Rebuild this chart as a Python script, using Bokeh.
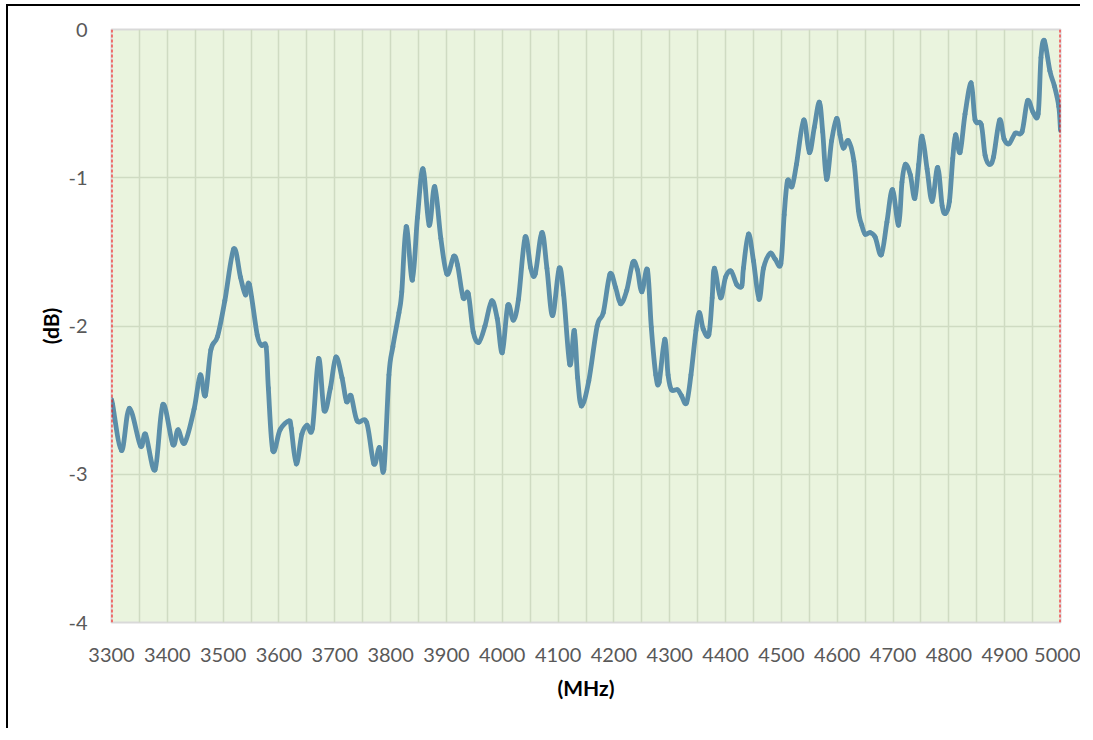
from bokeh.plotting import figure
from bokeh.models import FixedTicker, Span, Range1d, ColumnDataSource
from bokeh.embed import file_html
from bokeh.resources import INLINE

freq_mhz = [3300, 3302, 3318, 3332, 3352, 3361, 3378, 3392, 3410, 3419, 3431, 3448, 3459, 3468,
            3478, 3490, 3503, 3519, 3531, 3540, 3547, 3561, 3569, 3577, 3581, 3589, 3602, 3618,
            3622, 3631, 3641, 3650, 3660, 3671, 3681, 3692, 3702, 3713, 3721, 3729, 3740, 3757,
            3770, 3780, 3788, 3797, 3804, 3815, 3820, 3828, 3839, 3848, 3858, 3869, 3879, 3890,
            3901, 3913, 3920, 3930, 3939, 3948, 3958, 3969, 3981, 3991, 4000, 4010, 4020, 4029,
            4041, 4051, 4059, 4071, 4080, 4090, 4102, 4110, 4121, 4129, 4135, 4142, 4155, 4170,
            4181, 4193, 4203, 4212, 4223, 4234, 4242, 4250, 4260, 4267, 4275, 4281, 4291, 4297,
            4303, 4314, 4321, 4330, 4338, 4347, 4353, 4360, 4370, 4376, 4380, 4391, 4400, 4410,
            4420, 4429, 4432, 4441, 4450, 4460, 4468, 4480, 4489, 4499, 4505, 4511, 4519, 4527,
            4540, 4550, 4559, 4568, 4574, 4581, 4590, 4599, 4605, 4611, 4620, 4630, 4638, 4644,
            4650, 4659, 4668, 4679, 4689, 4699, 4710, 4716, 4722, 4731, 4739, 4746, 4752, 4761,
            4770, 4780, 4788, 4794, 4801, 4807, 4812, 4820, 4829, 4840, 4847, 4858, 4865, 4873,
            4880, 4891, 4899, 4908, 4919, 4931, 4941, 4951, 4960, 4965, 4971, 4981, 4989, 4997,
            5000]
gain_db = [-2.50, -2.53, -2.84, -2.555, -2.81, -2.73, -2.97, -2.53, -2.80, -2.70, -2.79, -2.56, -2.33, -2.47,
           -2.16, -2.07, -1.83, -1.48, -1.67, -1.79, -1.72, -2.06, -2.13, -2.14, -2.42, -2.84, -2.70, -2.64,
           -2.69, -2.93, -2.73, -2.67, -2.69, -2.22, -2.57, -2.42, -2.21, -2.35, -2.51, -2.47, -2.64, -2.65,
           -2.93, -2.82, -2.97, -2.33, -2.14, -1.91, -1.77, -1.33, -1.69, -1.27, -0.94, -1.32, -1.06, -1.41,
           -1.65, -1.53, -1.59, -1.81, -1.78, -2.04, -2.11, -2.00, -1.83, -1.95, -2.18, -1.86, -1.96, -1.82,
           -1.40, -1.61, -1.65, -1.37, -1.61, -1.93, -1.61, -1.79, -2.26, -2.03, -2.35, -2.54, -2.37, -2.00,
           -1.91, -1.65, -1.74, -1.85, -1.76, -1.57, -1.62, -1.77, -1.62, -2.01, -2.33, -2.38, -2.09, -2.33,
           -2.43, -2.43, -2.47, -2.52, -2.33, -2.03, -1.91, -2.02, -2.06, -1.81, -1.61, -1.81, -1.67, -1.63,
           -1.72, -1.73, -1.61, -1.38, -1.56, -1.82, -1.61, -1.51, -1.55, -1.58, -1.25, -1.02, -1.06, -0.91,
           -0.61, -0.83, -0.66, -0.49, -0.69, -1.01, -0.75, -0.60, -0.71, -0.80, -0.75, -0.89, -1.22, -1.32,
           -1.38, -1.37, -1.40, -1.52, -1.30, -1.08, -1.32, -1.03, -0.91, -0.98, -1.14, -0.91, -0.72, -0.94,
           -1.16, -0.93, -1.19, -1.24, -1.16, -0.87, -0.71, -0.83, -0.57, -0.36, -0.61, -0.64, -0.85, -0.91,
           -0.86, -0.61, -0.74, -0.77, -0.70, -0.69, -0.48, -0.56, -0.57, -0.19, -0.075, -0.28, -0.38, -0.52,
           -0.68]

x_tick_labels = list(range(3300, 5001, 100))
x_grid_lines = list(range(3300, 5001, 50))
y_ticks = [0, -1, -2, -3, -4]

p = figure(width=1080, height=728, output_backend="svg", toolbar_location=None,
           x_range=Range1d(3300, 5000), y_range=Range1d(-4, 0),
           min_border_left=111, min_border_right=20, min_border_top=29, min_border_bottom=106)
p.styles = {"background": "linear-gradient(#000, #000) 6px 4px / 2px 740px no-repeat, "
                          "linear-gradient(#000, #000) 6px 4px / 1093px 2px no-repeat, #fff"}

p.background_fill_color = "#EAF4DE"
p.border_fill_color = None
p.outline_line_color = "#D9D9D9"
p.outline_line_width = 2

p.xaxis.ticker = FixedTicker(ticks=x_tick_labels)
p.yaxis.ticker = FixedTicker(ticks=y_ticks)
p.yaxis.major_label_overrides = {t: str(t) for t in y_ticks}
p.xgrid.ticker = FixedTicker(ticks=x_grid_lines)
p.xgrid.grid_line_color = "#CFDBC2"
p.xgrid.grid_line_width = 1.5
p.ygrid.grid_line_color = "#CFDBC2"
p.ygrid.grid_line_width = 1.5

for ax in (p.xaxis, p.yaxis):
    ax.axis_line_color = None
    ax.major_tick_line_color = None
    ax.minor_tick_line_color = None
    ax.major_label_text_font = "Lato"
    ax.major_label_text_font_size = "20px"
    ax.major_label_text_color = "#595959"
    ax.axis_label_text_font = "Lato"
    ax.axis_label_text_font_size = "21px"
    ax.axis_label_text_font_style = "bold"
    ax.axis_label_text_color = "black"

p.xaxis.axis_label = "(MHz)"
p.yaxis.axis_label = "(dB)"
p.xaxis.major_label_standoff = 19
p.xaxis.axis_label_standoff = 10
p.yaxis.major_label_standoff = 18
p.yaxis.axis_label_standoff = 2

# smoothed line (like a spreadsheet "smoothed line"): Catmull-Rom segments as cubic Beziers
n = len(freq_mhz)
x0, y0, x1, y1, cx0, cy0, cx1, cy1 = [], [], [], [], [], [], [], []
for i in range(n - 1):
    a = max(i - 1, 0)
    b = min(i + 2, n - 1)
    x0.append(freq_mhz[i]); y0.append(gain_db[i])
    x1.append(freq_mhz[i + 1]); y1.append(gain_db[i + 1])
    cx0.append(freq_mhz[i] + (freq_mhz[i + 1] - freq_mhz[a]) / 6)
    cy0.append(gain_db[i] + (gain_db[i + 1] - gain_db[a]) / 6)
    cx1.append(freq_mhz[i + 1] - (freq_mhz[b] - freq_mhz[i]) / 6)
    cy1.append(gain_db[i + 1] - (gain_db[b] - gain_db[i]) / 6)
src = ColumnDataSource(dict(x0=x0, y0=y0, x1=x1, y1=y1, cx0=cx0, cy0=cy0, cx1=cx1, cy1=cy1))
p.bezier(x0="x0", y0="y0", x1="x1", y1="y1", cx0="cx0", cy0="cy0", cx1="cx1", cy1="cy1",
         source=src, line_color="#5B8EA9", line_width=4.8, line_cap="round")

for xv in (3300, 5000):
    p.add_layout(Span(location=xv, dimension="height", line_color="#FF0000",
                      line_width=2, line_dash="3 2"))

open("out.html", "w").write(file_html(p, INLINE))
